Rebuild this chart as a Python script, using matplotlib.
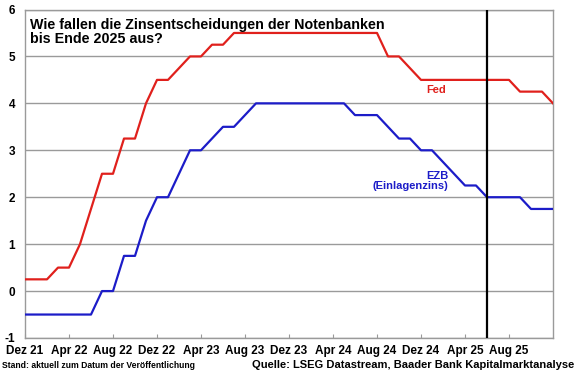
import matplotlib
matplotlib.use("Agg")
import matplotlib.pyplot as plt

# monthly values, Dez 21 .. Dez 25 (month-end)
fed = [0.25, 0.25, 0.25, 0.5, 0.5, 1.0, 1.75, 2.5, 2.5, 3.25, 3.25, 4.0, 4.5,
       4.5, 4.75, 5.0, 5.0, 5.25, 5.25, 5.5, 5.5, 5.5, 5.5, 5.5, 5.5,
       5.5, 5.5, 5.5, 5.5, 5.5, 5.5, 5.5, 5.5, 5.0, 5.0, 4.75, 4.5,
       4.5, 4.5, 4.5, 4.5, 4.5, 4.5, 4.5, 4.5, 4.25, 4.25, 4.25, 4.0]
ezb = [-0.5, -0.5, -0.5, -0.5, -0.5, -0.5, -0.5, 0.0, 0.0, 0.75, 0.75, 1.5, 2.0,
       2.0, 2.5, 3.0, 3.0, 3.25, 3.5, 3.5, 3.75, 4.0, 4.0, 4.0, 4.0,
       4.0, 4.0, 4.0, 4.0, 4.0, 3.75, 3.75, 3.75, 3.5, 3.25, 3.25, 3.0,
       3.0, 2.75, 2.5, 2.25, 2.25, 2.0, 2.0, 2.0, 2.0, 1.75, 1.75, 1.75]
months = list(range(len(fed)))

tick_pos = list(range(0, 48, 4))
tick_labels = ['Dez 21', 'Apr 22', 'Aug 22', 'Dez 22', 'Apr 23', 'Aug 23',
               'Dez 23', 'Apr 24', 'Aug 24', 'Dez 24', 'Apr 25', 'Aug 25']
today = 42  # Jun 25

RED = '#e0201c'
BLUE = '#1c1cc8'
GRID = '#9a9a9a'

plt.rcParams['font.family'] = ['Liberation Sans', 'DejaVu Sans']
plt.rcParams['font.weight'] = 'bold'
plt.rcParams['axes.unicode_minus'] = False

fig = plt.figure(figsize=(5.8, 3.75), dpi=100)
ax = fig.add_axes([25 / 580, 37 / 375, 528 / 580, 328.5 / 375])

ax.plot(months, fed, color=RED, lw=1.6, zorder=3)
ax.plot(months, ezb, color=BLUE, lw=1.6, zorder=3)
ax.axvline(today, color='black', lw=1.6, zorder=4)

ax.set_xlim(0, 48)
ax.set_ylim(-1, 6)
ax.set_yticks(range(-1, 7))
ax.set_xticks(tick_pos)
ax.set_xticklabels(tick_labels)
ax.yaxis.grid(True, color=GRID, lw=1)
ax.set_axisbelow(True)
for s in ax.spines.values():
    s.set_color(GRID)
    s.set_linewidth(1)

ax.tick_params(axis='x', direction='in', length=3, color=GRID, pad=5,
               labelsize=8.5)
ax.tick_params(axis='y', length=0, pad=7, labelsize=8.5)

ax.text(0.0095, 0.975, 'Wie fallen die Zinsentscheidungen der Notenbanken\nbis Ende 2025 aus?',
        transform=ax.transAxes, ha='left', va='top', fontsize=10.3,
        fontweight='bold', linespacing=1.05)

ax.text(37.4, 4.28, 'Fed', color=RED, fontsize=8, fontweight='bold',
        ha='center', va='center')
ax.text(38.5, 2.34, 'EZB\n(Einlagenzins)', color=BLUE, fontsize=8,
        fontweight='bold', ha='right', va='center', multialignment='right',
        linespacing=1.0)

fig.text(2 / 580, 1 - 366 / 375, 'Stand: aktuell zum Datum der Veröffentlichung',
         fontsize=6.2, fontweight='bold', ha='left', va='center')
fig.text(574 / 580, 1 - 365 / 375, 'Quelle: LSEG Datastream, Baader Bank Kapitalmarktanalyse',
         fontsize=8, fontweight='bold', ha='right', va='center')

fig.savefig('out.png', dpi=100)
